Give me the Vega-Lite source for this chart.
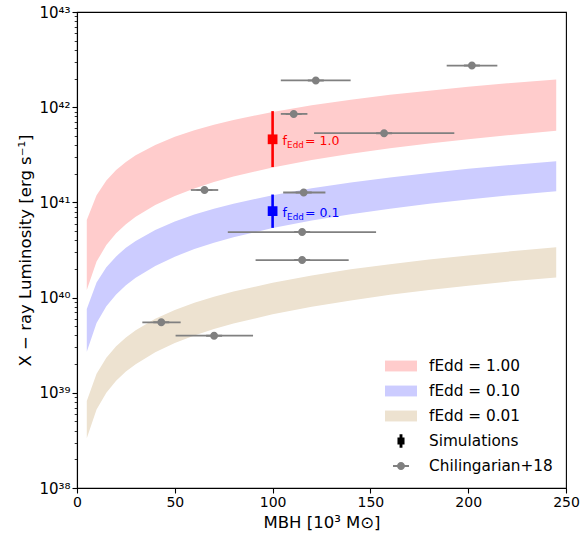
{
  "$schema": "https://vega.github.io/schema/vega-lite/v6.json",
  "width": 489,
  "height": 476,
  "autosize": {"type": "none"},
  "padding": {"left": 77, "top": 12, "right": 15, "bottom": 49},
  "background": "white",
  "config": {
    "font": "DejaVu Sans",
    "view": {"stroke": "black", "strokeWidth": 1.1},
    "axis": {
      "grid": false,
      "domainColor": "black",
      "domainWidth": 1.1,
      "tickColor": "black",
      "tickWidth": 1.1,
      "tickSize": 5,
      "labelColor": "black",
      "titleColor": "black",
      "labelFont": "DejaVu Sans",
      "titleFont": "DejaVu Sans",
      "labelFontSize": 14,
      "titleFontSize": 16.5,
      "titleFontWeight": "normal",
      "labelFlush": false,
      "labelOverlap": false
    },
    "legend": {
      "title": null,
      "orient": "bottom-right",
      "offset": 13,
      "padding": 0,
      "labelFont": "DejaVu Sans",
      "labelFontSize": 15.3,
      "labelColor": "black",
      "labelOffset": 12,
      "symbolSize": 1024,
      "symbolOpacity": 1,
      "symbolStrokeWidth": 0,
      "rowPadding": -9.5
    }
  },
  "datasets": {
    "bands": [
      {"M": 5, "series": "fEdd = 1.00", "Lhi": 6.52e40, "Llo": 1.20e40},
      {"M": 10, "series": "fEdd = 1.00", "Lhi": 1.19e41, "Llo": 2.39e40},
      {"M": 15, "series": "fEdd = 1.00", "Lhi": 1.70e41, "Llo": 3.56e40},
      {"M": 20, "series": "fEdd = 1.00", "Lhi": 2.19e41, "Llo": 4.73e40},
      {"M": 25, "series": "fEdd = 1.00", "Lhi": 2.66e41, "Llo": 5.90e40},
      {"M": 30, "series": "fEdd = 1.00", "Lhi": 3.12e41, "Llo": 7.08e40},
      {"M": 40, "series": "fEdd = 1.00", "Lhi": 4.01e41, "Llo": 9.40e40},
      {"M": 50, "series": "fEdd = 1.00", "Lhi": 4.88e41, "Llo": 1.17e41},
      {"M": 60, "series": "fEdd = 1.00", "Lhi": 5.71e41, "Llo": 1.40e41},
      {"M": 70, "series": "fEdd = 1.00", "Lhi": 6.55e41, "Llo": 1.64e41},
      {"M": 80, "series": "fEdd = 1.00", "Lhi": 7.35e41, "Llo": 1.87e41},
      {"M": 100, "series": "fEdd = 1.00", "Lhi": 8.93e41, "Llo": 2.33e41},
      {"M": 120, "series": "fEdd = 1.00", "Lhi": 1.05e42, "Llo": 2.79e41},
      {"M": 140, "series": "fEdd = 1.00", "Lhi": 1.20e42, "Llo": 3.24e41},
      {"M": 160, "series": "fEdd = 1.00", "Lhi": 1.35e42, "Llo": 3.71e41},
      {"M": 180, "series": "fEdd = 1.00", "Lhi": 1.49e42, "Llo": 4.16e41},
      {"M": 200, "series": "fEdd = 1.00", "Lhi": 1.64e42, "Llo": 4.61e41},
      {"M": 220, "series": "fEdd = 1.00", "Lhi": 1.78e42, "Llo": 5.07e41},
      {"M": 245, "series": "fEdd = 1.00", "Lhi": 1.95e42, "Llo": 5.65e41},
      {"M": 5, "series": "fEdd = 0.10", "Lhi": 7.59e39, "Llo": 2.70e39},
      {"M": 10, "series": "fEdd = 0.10", "Lhi": 1.44e40, "Llo": 5.40e39},
      {"M": 15, "series": "fEdd = 0.10", "Lhi": 2.08e40, "Llo": 8.09e39},
      {"M": 20, "series": "fEdd = 0.10", "Lhi": 2.71e40, "Llo": 1.08e40},
      {"M": 25, "series": "fEdd = 0.10", "Lhi": 3.33e40, "Llo": 1.35e40},
      {"M": 30, "series": "fEdd = 0.10", "Lhi": 3.94e40, "Llo": 1.62e40},
      {"M": 40, "series": "fEdd = 0.10", "Lhi": 5.13e40, "Llo": 2.15e40},
      {"M": 50, "series": "fEdd = 0.10", "Lhi": 6.30e40, "Llo": 2.69e40},
      {"M": 60, "series": "fEdd = 0.10", "Lhi": 7.45e40, "Llo": 3.23e40},
      {"M": 70, "series": "fEdd = 0.10", "Lhi": 8.57e40, "Llo": 3.77e40},
      {"M": 80, "series": "fEdd = 0.10", "Lhi": 9.70e40, "Llo": 4.31e40},
      {"M": 100, "series": "fEdd = 0.10", "Lhi": 1.19e41, "Llo": 5.37e40},
      {"M": 120, "series": "fEdd = 0.10", "Lhi": 1.41e41, "Llo": 6.44e40},
      {"M": 140, "series": "fEdd = 0.10", "Lhi": 1.62e41, "Llo": 7.52e40},
      {"M": 160, "series": "fEdd = 0.10", "Lhi": 1.83e41, "Llo": 8.59e40},
      {"M": 180, "series": "fEdd = 0.10", "Lhi": 2.04e41, "Llo": 9.66e40},
      {"M": 200, "series": "fEdd = 0.10", "Lhi": 2.25e41, "Llo": 1.07e41},
      {"M": 220, "series": "fEdd = 0.10", "Lhi": 2.45e41, "Llo": 1.18e41},
      {"M": 245, "series": "fEdd = 0.10", "Lhi": 2.71e41, "Llo": 1.31e41},
      {"M": 5, "series": "fEdd = 0.01", "Lhi": 8.22e38, "Llo": 3.34e38},
      {"M": 10, "series": "fEdd = 0.01", "Lhi": 1.59e39, "Llo": 6.68e38},
      {"M": 15, "series": "fEdd = 0.01", "Lhi": 2.34e39, "Llo": 1.00e39},
      {"M": 20, "series": "fEdd = 0.01", "Lhi": 3.08e39, "Llo": 1.34e39},
      {"M": 25, "series": "fEdd = 0.01", "Lhi": 3.82e39, "Llo": 1.67e39},
      {"M": 30, "series": "fEdd = 0.01", "Lhi": 4.54e39, "Llo": 2.00e39},
      {"M": 40, "series": "fEdd = 0.01", "Lhi": 5.98e39, "Llo": 2.67e39},
      {"M": 50, "series": "fEdd = 0.01", "Lhi": 7.40e39, "Llo": 3.33e39},
      {"M": 60, "series": "fEdd = 0.01", "Lhi": 8.81e39, "Llo": 4.00e39},
      {"M": 70, "series": "fEdd = 0.01", "Lhi": 1.02e40, "Llo": 4.67e39},
      {"M": 80, "series": "fEdd = 0.01", "Lhi": 1.16e40, "Llo": 5.33e39},
      {"M": 100, "series": "fEdd = 0.01", "Lhi": 1.43e40, "Llo": 6.67e39},
      {"M": 120, "series": "fEdd = 0.01", "Lhi": 1.71e40, "Llo": 8.00e39},
      {"M": 140, "series": "fEdd = 0.01", "Lhi": 1.98e40, "Llo": 9.33e39},
      {"M": 160, "series": "fEdd = 0.01", "Lhi": 2.24e40, "Llo": 1.07e40},
      {"M": 180, "series": "fEdd = 0.01", "Lhi": 2.51e40, "Llo": 1.20e40},
      {"M": 200, "series": "fEdd = 0.01", "Lhi": 2.77e40, "Llo": 1.33e40},
      {"M": 220, "series": "fEdd = 0.01", "Lhi": 3.04e40, "Llo": 1.47e40},
      {"M": 245, "series": "fEdd = 0.01", "Lhi": 3.37e40, "Llo": 1.63e40}
    ],
    "chilingarian": [
      {"series": "Chilingarian+18", "M": 43.1, "Mlo": 33.4, "Mhi": 53.0, "L": 5.5e39},
      {"series": "Chilingarian+18", "M": 70.1, "Mlo": 50.4, "Mhi": 90.0, "L": 3.98e39},
      {"series": "Chilingarian+18", "M": 65.2, "Mlo": 58.2, "Mhi": 72.2, "L": 1.35e41},
      {"series": "Chilingarian+18", "M": 110.8, "Mlo": 104.2, "Mhi": 117.8, "L": 8.5e41},
      {"series": "Chilingarian+18", "M": 122.1, "Mlo": 104.2, "Mhi": 139.9, "L": 1.91e42},
      {"series": "Chilingarian+18", "M": 201.9, "Mlo": 189.0, "Mhi": 214.9, "L": 2.74e42},
      {"series": "Chilingarian+18", "M": 157.0, "Mlo": 121.2, "Mhi": 192.9, "L": 5.33e41},
      {"series": "Chilingarian+18", "M": 115.9, "Mlo": 105.4, "Mhi": 127.0, "L": 1.27e41},
      {"series": "Chilingarian+18", "M": 115.1, "Mlo": 77.1, "Mhi": 152.9, "L": 4.88e40},
      {"series": "Chilingarian+18", "M": 115.1, "Mlo": 91.3, "Mhi": 138.9, "L": 2.48e40}
    ],
    "simulations": [
      {"M": 100, "fEdd": "1.0", "L": 4.6e41, "Llo": 2.35e41, "Lhi": 9.1e41},
      {"M": 100, "fEdd": "0.1", "L": 8.1e40, "Llo": 5.4e40, "Lhi": 1.21e41}
    ]
  },
  "layer": [
    {
      "data": {"name": "bands"},
      "mark": {"type": "area", "opacity": 1, "interpolate": "linear"},
      "encoding": {
        "x": {
          "field": "M",
          "type": "quantitative",
          "scale": {"domain": [0, 250], "nice": false, "zero": false},
          "axis": {
            "values": [0, 50, 100, 150, 200, 250],
            "title": "MBH [10³ M⊙]",
            "labelPadding": 2,
            "titlePadding": 5
          }
        },
        "y": {
          "field": "Lhi",
          "type": "quantitative",
          "stack": null,
          "scale": {"type": "log", "domain": [1e38, 1e43], "nice": false},
          "axis": {
            "title": "X − ray Luminosity [erg s⁻¹]",
            "values": [1e38, 2e38, 3e38, 4e38, 5e38, 6e38, 7e38, 8e38, 9e38,
                       1e39, 2e39, 3e39, 4e39, 5e39, 6e39, 7e39, 8e39, 9e39,
                       1e40, 2e40, 3e40, 4e40, 5e40, 6e40, 7e40, 8e40, 9e40,
                       1e41, 2e41, 3e41, 4e41, 5e41, 6e41, 7e41, 8e41, 9e41,
                       1e42, 2e42, 3e42, 4e42, 5e42, 6e42, 7e42, 8e42, 9e42, 1e43],
            "labelExpr": "abs(log(datum.value)/LN10 - round(log(datum.value)/LN10)) > 0.01 ? '' : ['10³⁸','10³⁹','10⁴⁰','10⁴¹','10⁴²','10⁴³'][round(log(datum.value)/LN10) - 38]",
            "labelFontSize": 15,
            "tickSize": {"condition": {"test": "abs(log(datum.value)/LN10 - round(log(datum.value)/LN10)) < 0.01", "value": 5}, "value": 2.8},
            "tickWidth": {"condition": {"test": "abs(log(datum.value)/LN10 - round(log(datum.value)/LN10)) < 0.01", "value": 1.1}, "value": 0.8},
            "labelPadding": 2,
            "titlePadding": 5
          }
        },
        "y2": {"field": "Llo"},
        "color": {
          "field": "series",
          "type": "nominal",
          "scale": {
            "domain": ["fEdd = 1.00", "fEdd = 0.10", "fEdd = 0.01", "Simulations", "Chilingarian+18"],
            "range": ["#ffcccc", "#ccccff", "#ede2d0", "#000000", "#808080"]
          },
          "legend": {"title": null}
        }
      }
    },
    {
      "data": {"name": "chilingarian"},
      "mark": {"type": "rule", "color": "#808080", "strokeWidth": 1.8},
      "encoding": {
        "x": {"field": "Mlo", "type": "quantitative"},
        "x2": {"field": "Mhi"},
        "y": {"field": "L", "type": "quantitative"}
      }
    },
    {
      "data": {"name": "chilingarian"},
      "mark": {"type": "point", "filled": true, "color": "#808080", "opacity": 1, "size": 1024, "strokeWidth": 0},
      "encoding": {
        "x": {"field": "M", "type": "quantitative"},
        "y": {"field": "L", "type": "quantitative"},
        "shape": {
          "field": "series",
          "type": "nominal",
          "scale": {
            "domain": ["fEdd = 1.00", "fEdd = 0.10", "fEdd = 0.01", "Simulations", "Chilingarian+18"],
            "range": [
              "M-1,-0.34H1V0.34H-1Z",
              "M-1,-0.34H1V0.34H-1Z",
              "M-1,-0.34H1V0.34H-1Z",
              "M-0.22,-0.22H0.22V0.22H-0.22Z M-0.09,-0.42H0.09V0.42H-0.09Z",
              "M-0.25,0A0.25,0.25,0,1,1,0.25,0A0.25,0.25,0,1,1,-0.25,0Z M-0.5,-0.06H0.5V0.06H-0.5Z"
            ]
          },
          "legend": {"title": null}
        }
      }
    },
    {
      "data": {"name": "simulations"},
      "transform": [{"filter": "datum.fEdd == '1.0'"}],
      "mark": {"type": "rule", "color": "#ff0000", "strokeWidth": 2.6},
      "encoding": {
        "x": {"field": "M", "type": "quantitative"},
        "y": {"field": "Llo", "type": "quantitative"},
        "y2": {"field": "Lhi"}
      }
    },
    {
      "data": {"name": "simulations"},
      "transform": [{"filter": "datum.fEdd == '1.0'"}],
      "mark": {"type": "square", "filled": true, "color": "#ff0000", "opacity": 1, "size": 95},
      "encoding": {
        "x": {"field": "M", "type": "quantitative"},
        "y": {"field": "L", "type": "quantitative"}
      }
    },
    {
      "data": {"name": "simulations"},
      "transform": [{"filter": "datum.fEdd == '1.0'"}],
      "mark": {"type": "text", "color": "#ff0000", "fontSize": 12.5, "align": "left", "baseline": "middle", "dx": 10, "dy": 2},
      "encoding": {
        "x": {"field": "M", "type": "quantitative"},
        "y": {"field": "L", "type": "quantitative"},
        "text": {"value": "f"}
      }
    },
    {
      "data": {"name": "simulations"},
      "transform": [{"filter": "datum.fEdd == '1.0'"}],
      "mark": {"type": "text", "color": "#ff0000", "fontSize": 8.8, "align": "left", "baseline": "middle", "dx": 14.5, "dy": 5.5},
      "encoding": {
        "x": {"field": "M", "type": "quantitative"},
        "y": {"field": "L", "type": "quantitative"},
        "text": {"value": "Edd"}
      }
    },
    {
      "data": {"name": "simulations"},
      "transform": [{"filter": "datum.fEdd == '1.0'"}],
      "mark": {"type": "text", "color": "#ff0000", "fontSize": 12.5, "align": "left", "baseline": "middle", "dx": 32.5, "dy": 2},
      "encoding": {
        "x": {"field": "M", "type": "quantitative"},
        "y": {"field": "L", "type": "quantitative"},
        "text": {"value": "= 1.0"}
      }
    },
    {
      "data": {"name": "simulations"},
      "transform": [{"filter": "datum.fEdd == '0.1'"}],
      "mark": {"type": "rule", "color": "#0000ff", "strokeWidth": 2.6},
      "encoding": {
        "x": {"field": "M", "type": "quantitative"},
        "y": {"field": "Llo", "type": "quantitative"},
        "y2": {"field": "Lhi"}
      }
    },
    {
      "data": {"name": "simulations"},
      "transform": [{"filter": "datum.fEdd == '0.1'"}],
      "mark": {"type": "square", "filled": true, "color": "#0000ff", "opacity": 1, "size": 95},
      "encoding": {
        "x": {"field": "M", "type": "quantitative"},
        "y": {"field": "L", "type": "quantitative"}
      }
    },
    {
      "data": {"name": "simulations"},
      "transform": [{"filter": "datum.fEdd == '0.1'"}],
      "mark": {"type": "text", "color": "#0000ff", "fontSize": 12.5, "align": "left", "baseline": "middle", "dx": 10, "dy": 2},
      "encoding": {
        "x": {"field": "M", "type": "quantitative"},
        "y": {"field": "L", "type": "quantitative"},
        "text": {"value": "f"}
      }
    },
    {
      "data": {"name": "simulations"},
      "transform": [{"filter": "datum.fEdd == '0.1'"}],
      "mark": {"type": "text", "color": "#0000ff", "fontSize": 8.8, "align": "left", "baseline": "middle", "dx": 14.5, "dy": 5.5},
      "encoding": {
        "x": {"field": "M", "type": "quantitative"},
        "y": {"field": "L", "type": "quantitative"},
        "text": {"value": "Edd"}
      }
    },
    {
      "data": {"name": "simulations"},
      "transform": [{"filter": "datum.fEdd == '0.1'"}],
      "mark": {"type": "text", "color": "#0000ff", "fontSize": 12.5, "align": "left", "baseline": "middle", "dx": 32.5, "dy": 2},
      "encoding": {
        "x": {"field": "M", "type": "quantitative"},
        "y": {"field": "L", "type": "quantitative"},
        "text": {"value": "= 0.1"}
      }
    }
  ]
}
